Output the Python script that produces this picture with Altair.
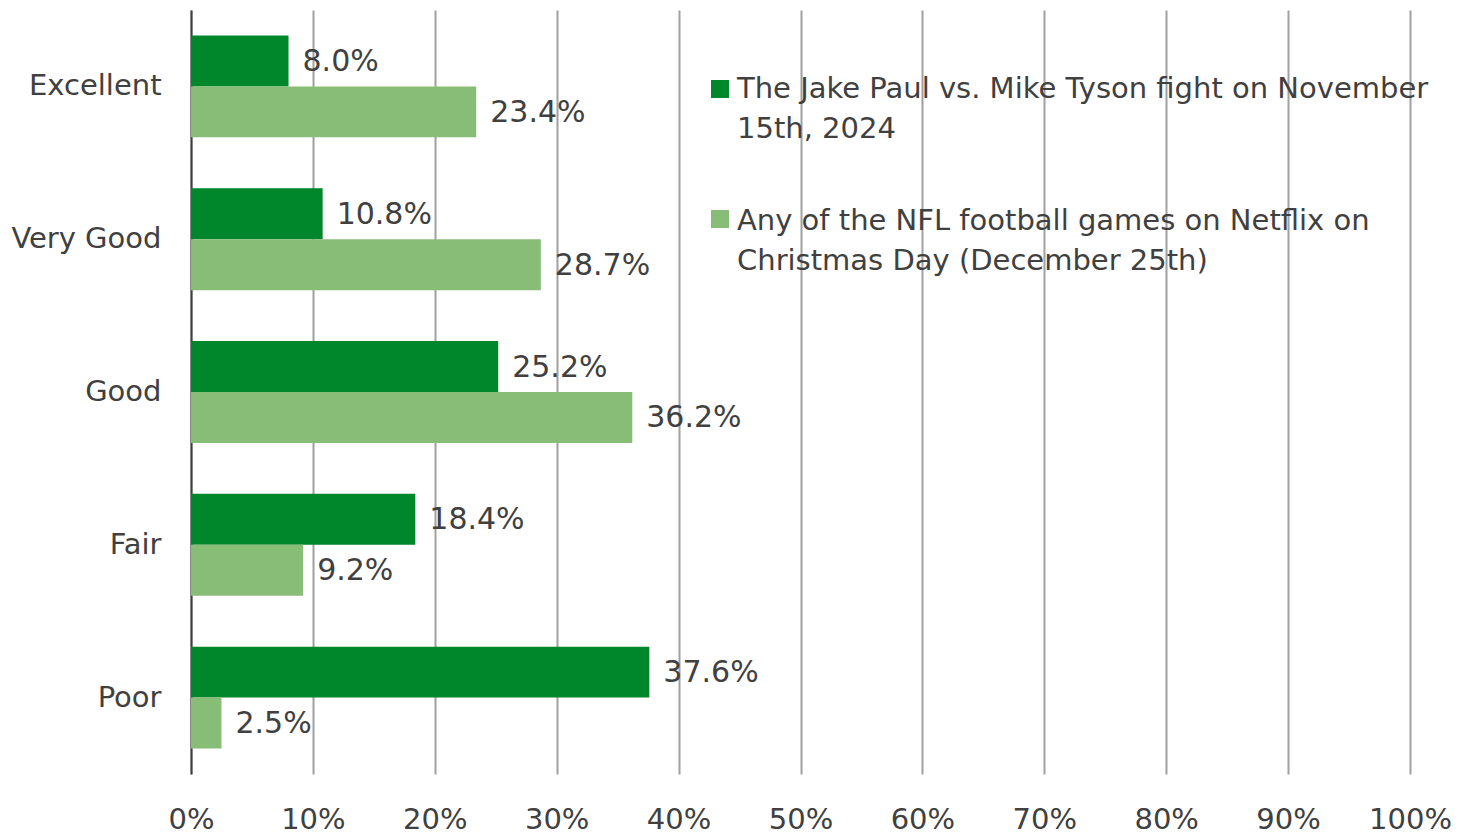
import altair as alt
import pandas as pd

categories = ["Excellent", "Very Good", "Good", "Fair", "Poor"]
series = [
    "The Jake Paul vs. Mike Tyson fight on November 15th, 2024",
    "Any of the NFL football games on Netflix on Christmas Day (December 25th)",
]
jake_paul = [8.0, 10.8, 25.2, 18.4, 37.6]
nfl_netflix = [23.4, 28.7, 36.2, 9.2, 2.5]
x_ticks = [0, 10, 20, 30, 40, 50, 60, 70, 80, 90, 100]
legend_lines = [
    "The Jake Paul vs. Mike Tyson fight on November\n15th, 2024",
    "Any of the NFL football games on Netflix on\nChristmas Day (December 25th)",
]
colors = ["#00862B", "#88BD77"]

rows = []
for c, a, b in zip(categories, jake_paul, nfl_netflix):
    rows.append({"category": c, "series": series[0], "value": a})
    rows.append({"category": c, "series": series[1], "value": b})
df = pd.DataFrame(rows)

FONT = "DejaVu Sans"
TXT = "#404040"

y_enc = alt.Y(
    "category:N",
    sort=categories,
    scale=alt.Scale(paddingInner=1 / 3, paddingOuter=1 / 6),
    axis=alt.Axis(
        title=None, ticks=False, domain=True, domainColor="#404040", domainWidth=2,
        labelFont=FONT, labelFontSize=29, labelColor=TXT, labelPadding=30,
        grid=False,
    ),
)
x_enc = alt.X(
    "value:Q",
    scale=alt.Scale(domain=[0, 100], nice=False),
    axis=alt.Axis(
        title=None, values=x_ticks, labelExpr="datum.value + '%'",
        ticks=False, domain=False, grid=True, gridColor="#A0A0A0", gridWidth=2,
        labelFont=FONT, labelFontSize=29, labelColor=TXT, labelPadding=31,
        labelFlush=False, labelOverlap=False,
    ),
)
yoff = alt.YOffset("series:N", sort=series, scale=alt.Scale(domain=series, paddingInner=0, paddingOuter=0))
color = alt.Color("series:N", scale=alt.Scale(domain=series, range=colors), legend=None)

base = alt.Chart(df).encode(y=y_enc, yOffset=yoff)

bars = base.mark_bar().encode(x=x_enc, color=color)
labels = base.mark_text(
    align="left", baseline="middle", dx=14, dy=1, font=FONT, fontSize=30, color=TXT
).transform_calculate(
    label="format(datum.value, '.1f') + '%'"
).encode(x=alt.X("value:Q"), text="label:N")

leg_df = pd.DataFrame({"series": series, "text": legend_lines})
leg_color = alt.Color("series:N", scale=alt.Scale(domain=series, range=colors), legend=None)
sq1 = alt.Chart(leg_df).transform_filter(alt.datum.series == series[0]).mark_square(
    size=324, opacity=1
).encode(x=alt.value(529), y=alt.value(79), color=leg_color)
sq2 = alt.Chart(leg_df).transform_filter(alt.datum.series == series[1]).mark_square(
    size=324, opacity=1
).encode(x=alt.value(529), y=alt.value(209), color=leg_color)
t1 = alt.Chart(leg_df).transform_filter(alt.datum.series == series[0]).mark_text(
    align="left", baseline="alphabetic", lineBreak="\n", lineHeight=40,
    font=FONT, fontSize=29, color=TXT
).encode(x=alt.value(546), y=alt.value(88), text="text:N")
t2 = alt.Chart(leg_df).transform_filter(alt.datum.series == series[1]).mark_text(
    align="left", baseline="alphabetic", lineBreak="\n", lineHeight=40,
    font=FONT, fontSize=29, color=TXT
).encode(x=alt.value(546), y=alt.value(220), text="text:N")

chart = alt.layer(bars, labels, sq1, sq2, t1, t2).properties(
    width=1219, height=764,
    autosize=alt.AutoSizeParams(type="none"),
    padding={"left": 191, "top": 10, "right": 59, "bottom": 64},
    background="white",
).configure_view(stroke=None)

chart.save("out.html", embed_options={"renderer": "svg", "actions": False})
